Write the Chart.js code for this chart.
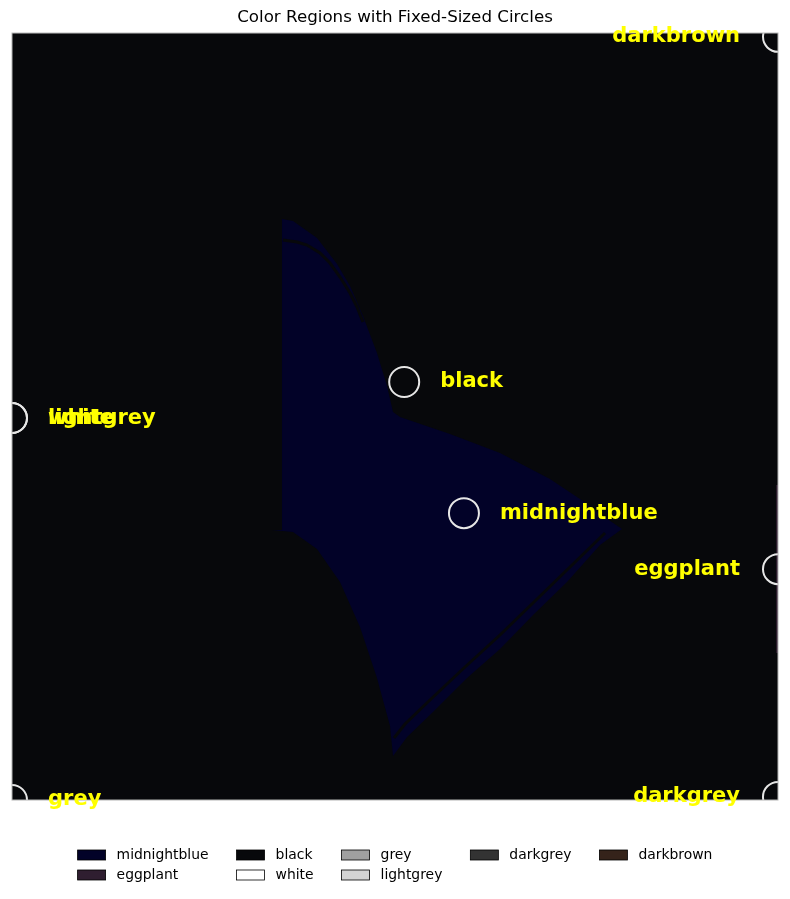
<!DOCTYPE html>
<html>
<head>
  <script src="https://cdn.jsdelivr.net/npm/chart.js@4"></script>
  <style>
    body { margin: 0; background: #fff; }
    #wrap { width: 790px; height: 899px; }
  </style>
</head>
<body>
  <div id="wrap"><canvas id="myChart"></canvas></div>
  <script>
    // legend entries (column-major, 5 columns)
    const regionNames = ['midnightblue', 'eggplant', 'black', 'white', 'grey', 'lightgrey', 'darkgrey', 'darkbrown'];
    const regionColors = ['#020228', '#2f1e30', '#07080b', '#ffffff', '#a0a0a0', '#d3d3d3', '#333333', '#35231a'];
    const legendColumns = [2, 2, 2, 1, 1];

    // circles and their labels
    const circleLabels = ['darkbrown', 'white', 'lightgrey', 'black', 'midnightblue', 'eggplant', 'grey', 'darkgrey'];
    const circleX = [1.0, 0.0, 0.0, 0.512, 0.590, 1.0, 0.0, 1.0];
    const circleY = [0.995, 0.498, 0.498, 0.545, 0.374, 0.301, 0.0, 0.004];

    // black region = whole square
    const blackX = [0, 1, 1, 0];
    const blackY = [0, 0, 1, 1];

    // midnightblue region outline
    const blueX = [0.3525, 0.3525, 0.3668, 0.3982, 0.4243, 0.4413, 0.4582, 0.4765, 0.4896, 0.4974, 0.5065,
      0.5718, 0.6371, 0.7023, 0.7454, 0.7715, 0.7963, 0.7676, 0.7245, 0.6802, 0.6371, 0.5940, 0.5496,
      0.5157, 0.4974, 0.4935, 0.4765, 0.4543, 0.4282, 0.3982, 0.3668, 0.3394];
    const blueY = [0.352, 0.7575, 0.7549, 0.7327, 0.6988, 0.6701, 0.6310, 0.5828, 0.5398, 0.5059, 0.4993,
      0.4772, 0.4524, 0.4185, 0.3898, 0.3703, 0.3533, 0.3325, 0.2842, 0.2412, 0.1969, 0.1591, 0.1147,
      0.0821, 0.0574, 0.0965, 0.1591, 0.2256, 0.2842, 0.3272, 0.3494, 0.3520];

    // thin eggplant strip on the right edge
    const eggX = [0.9975, 1.0, 1.0, 0.9975];
    const eggY = [0.1917, 0.1917, 0.4107, 0.4107];

    // dark seams inside the blue region
    const seamTopX = [0.3538, 0.3721, 0.3851, 0.4021, 0.4151, 0.4282, 0.4413, 0.4504, 0.4582];
    const seamTopY = [0.7301, 0.7275, 0.7236, 0.7132, 0.7001, 0.6819, 0.6610, 0.6428, 0.6232];
    const seamLowX = [0.7742, 0.7285, 0.6828, 0.6371, 0.5914, 0.5457, 0.5131, 0.4987];
    const seamLowY = [0.3481, 0.3038, 0.2595, 0.2151, 0.1734, 0.1304, 0.0991, 0.0808];

    const pts = (xs, ys) => xs.map((x, i) => ({ x, y: ys[i] }));
    const colorOf = name => regionColors[regionNames.indexOf(name)];

    const region = (label, xs, ys, order) => ({
      label, data: pts(xs, ys), showLine: true, fill: 'shape',
      backgroundColor: colorOf(label), borderWidth: 0, pointRadius: 0, tension: 0, clip: 0, order,
    });
    const seam = (xs, ys) => ({
      data: pts(xs, ys), showLine: true, fill: false, borderColor: colorOf('black'),
      borderWidth: 3, pointRadius: 0, tension: 0, clip: 0, order: 4,
    });

    const extras = {
      id: 'extras',
      afterDatasetsDraw(chart) {
        const { ctx, chartArea: a } = chart;
        ctx.save();
        ctx.strokeStyle = '#b4b4b4';
        ctx.lineWidth = 1;
        ctx.strokeRect(a.left, a.top, a.right - a.left, a.bottom - a.top);
        // circle labels
        const meta = chart.getDatasetMeta(0);
        ctx.font = 'bold 21px "DejaVu Sans"';
        ctx.fillStyle = '#ffff00';
        ctx.textBaseline = 'middle';
        meta.data.forEach((p, i) => {
          if (circleX[i] >= 1) {
            ctx.textAlign = 'right';
            ctx.fillText(circleLabels[i], p.x - 38, p.y);
          } else {
            ctx.textAlign = 'left';
            ctx.fillText(circleLabels[i], p.x + 36, p.y);
          }
        });
        ctx.restore();
      },
      afterDraw(chart) {
        // legend laid out in columns like the original
        const { ctx, width } = chart;
        ctx.save();
        ctx.font = '13.9px "DejaVu Sans"';
        ctx.textBaseline = 'middle';
        ctx.textAlign = 'left';
        const boxW = 28, pad = 11, gap = 28, rowY = [855, 875];
        let k = 0;
        const cols = legendColumns.map(n => {
          const items = regionNames.slice(k, k + n);
          k += n;
          const w = boxW + pad + Math.max(...items.map(t => ctx.measureText(t).width));
          return { items, w };
        });
        const total = cols.reduce((s, c) => s + c.w, 0) + gap * (cols.length - 1);
        let x = (width - total) / 2;
        cols.forEach(c => {
          c.items.forEach((name, r) => {
            const y = rowY[r];
            ctx.fillStyle = colorOf(name);
            ctx.fillRect(x, y - 5, boxW, 10);
            ctx.strokeStyle = '#000';
            ctx.lineWidth = 0.8;
            ctx.strokeRect(x, y - 5, boxW, 10);
            ctx.fillStyle = '#000';
            ctx.fillText(name, x + boxW + pad, y);
          });
          x += c.w + gap;
        });
        ctx.restore();
      },
    };

    new Chart(document.getElementById('myChart'), {
      type: 'scatter',
      data: {
        datasets: [
          {
            label: 'circles', data: pts(circleX, circleY), pointRadius: 15, pointHoverRadius: 15,
            borderColor: '#e6e6e6', borderWidth: 2, backgroundColor: 'rgba(0,0,0,0)', clip: 0, order: 0,
          },
          region('midnightblue', blueX, blueY, 5),
          region('eggplant', eggX, eggY, 5),
          seam(seamTopX, seamTopY),
          seam(seamLowX, seamLowY),
          region('black', blackX, blackY, 10),
        ],
      },
      options: {
        responsive: true,
        maintainAspectRatio: false,
        animation: false,
        events: [],
        layout: { autoPadding: false, padding: { left: 12, right: 12, top: 8, bottom: 99 } },
        scales: {
          x: { type: 'linear', min: 0, max: 1, display: false },
          y: { type: 'linear', min: 0, max: 1, display: false },
        },
        plugins: {
          legend: { display: false },
          tooltip: { enabled: false },
          title: {
            display: true,
            text: 'Color Regions with Fixed-Sized Circles',
            color: '#000',
            font: { family: 'DejaVu Sans', size: 16.7, weight: 'normal' },
            padding: { top: 0, bottom: 5 },
          },
        },
      },
      plugins: [extras],
    });
  </script>
</body>
</html>
